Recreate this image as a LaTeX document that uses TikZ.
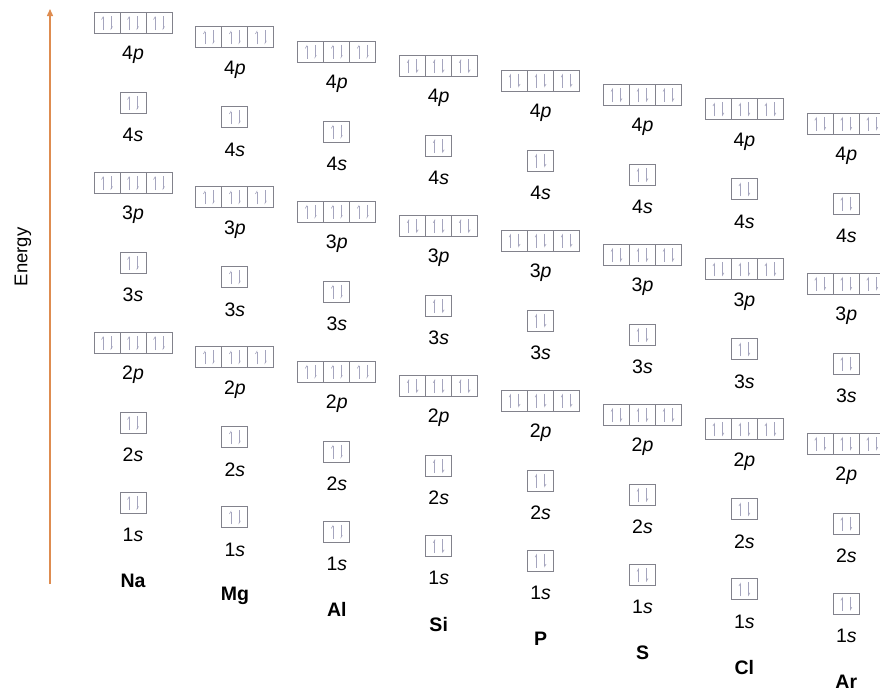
\documentclass[tikz,border=0pt]{standalone}
\usepackage{fontspec}
\setmainfont{Liberation Sans}
\usetikzlibrary{arrows.meta}

\definecolor{energycol}{RGB}{222,140,80}
\definecolor{boxcol}{RGB}{130,130,140}
\definecolor{spincol}{RGB}{165,165,190}

\tikzset{
    cell/.style={draw=boxcol, fill=white, line width=1pt, minimum width=26pt, minimum height=21pt, inner sep=0pt},
    lvl/.style={font=\fontsize{19.5}{20}\selectfont, inner sep=0pt},
    elem/.style={font=\fontsize{19.5}{20}\selectfont\bfseries, inner sep=0pt},
    spin/.style={draw=spincol, line width=0.6pt, -{Straight Barb[left,length=2.5pt,width=3pt]}}
}

\begin{document}
\begin{tikzpicture}[x=1pt, y=-1pt]
                    \useasboundingbox (0,0) rectangle (880,694);
                    \clip (0,0) rectangle (880,694);
                    % Energy axis
                    \coordinate (elow) at (50,584);
                    \coordinate (etop) at (50,9);
                    \draw[energycol, line width=1.4pt, -{Triangle[length=7pt,width=6pt]}] (elow) -- (etop);
                    \node[rotate=90, font=\fontsize{18.5}{19}\selectfont] (energy) at (23,257) {Energy};
                    % Orbital boxes
                    \foreach \el [count=\i from 0] in {Na,Mg,Al,Si,P,S,Cl,Ar} {
                        \pgfmathsetmacro\cx{133+101.9*\i}
                        \foreach \n/\l/\k/\w in {4/p/0/1,4/s/1/0,3/p/2/1,3/s/3/0,2/p/4/1,2/s/5/0,1/s/6/0} {
                            \pgfmathsetmacro\cy{23+80*\k+14.4*\i}
                            \foreach \j in {-\w,...,\w} {
                                \node[cell] (\el\n\l\j) at (\cx+26*\j,\cy) {};
                                \draw[spin] ([xshift=-4pt,yshift=4pt]\el\n\l\j.south) -- ([xshift=-4pt,yshift=-4pt]\el\n\l\j.north);
                                \draw[spin] ([xshift=4pt,yshift=-4pt]\el\n\l\j.north) -- ([xshift=4pt,yshift=4pt]\el\n\l\j.south);
                            }
                            \node[lvl] (\el\n\l lab) at (\cx,\cy+32) {\n\textit{\l}};
                        }
                        % Element symbol
                        \node[elem] (\el) at (\cx,23+80*6+14.4*\i+78) {\el};
                    }
                \end{tikzpicture}
\end{document}
